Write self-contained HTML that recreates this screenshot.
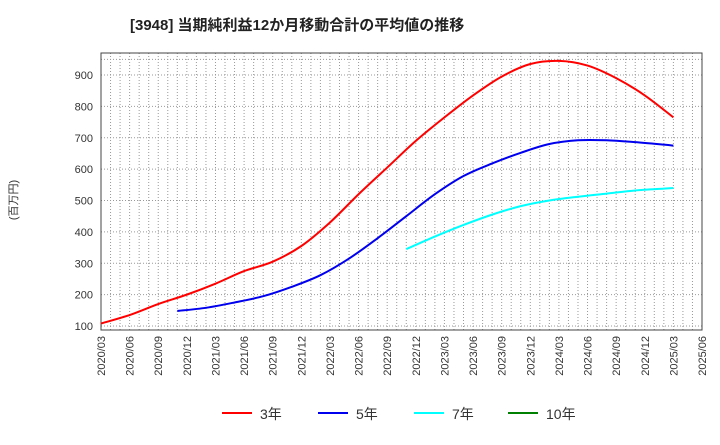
<!DOCTYPE html>
<html><head><meta charset="utf-8"><style>
body{margin:0;background:#fff;}
svg text{font-family:"Liberation Sans","Noto Sans CJK JP",sans-serif;}
</style></head><body>
<svg id="c" width="720" height="440">
<text x="130" y="30" font-size="15" font-weight="bold" fill="#222">[3948]  当期純利益12か月移動合計の平均値の推移</text>
<text transform="translate(17,200) rotate(-90)" font-size="11" fill="#333" text-anchor="middle">(百万円)</text>
<g id="grid"></g><g id="axes"></g><g id="series"></g><g id="legend"></g>
</svg>
<script>
const xLabels=["2020/03","2020/06","2020/09","2020/12","2021/03","2021/06","2021/09","2021/12","2022/03","2022/06","2022/09","2022/12","2023/03","2023/06","2023/09","2023/12","2024/03","2024/06","2024/09","2024/12","2025/03","2025/06"];
const yTicks=[100,200,300,400,500,600,700,800,900];
// month index from 2020/03
const m3=[0,3,6,9,12,15,18,21,24,27,30,33,36,39,42,45,48,51,54,57,60];
const v3=[108,135,170,200,235,275,305,355,430,520,605,690,765,835,895,935,945,930,890,835,765];
const m5=[8,11,14,17,20,23,26,29,32,35,38,41,44,47,50,53,56,59,60];
const v5=[148,158,175,195,225,262,315,380,450,520,578,618,652,680,692,692,686,678,675];
const m7=[32,35,38,41,44,47,50,53,56,59,60];
const v7=[345,385,422,455,482,500,512,522,532,538,540];
const L=101,R=702,T=53,B=330;
const X=m=>L+m*(R-L)/63;
const Y=v=>326-(v-100)*(251/800);
const NS="http://www.w3.org/2000/svg";
function mk(t,a,p){const e=document.createElementNS(NS,t);for(const k in a)e.setAttribute(k,a[k]);p.appendChild(e);return e;}
const g=document.getElementById('grid');
for(let m=1;m<63;m++){const l=mk('line',{x1:X(m),x2:X(m),y1:T,y2:B,stroke:'#999','stroke-dasharray':'1,2','stroke-width':1},g);}
for(const v of yTicks.concat([950])){const l=mk('line',{x1:L,x2:R,y1:Y(v),y2:Y(v),stroke:'#999','stroke-dasharray':'1,2'},g);}
const ax=document.getElementById('axes');
const fr=mk('rect',{x:L,y:T,width:R-L,height:B-T,fill:'none',stroke:'#444'},ax);

yTicks.forEach(v=>{const t=mk('text',{x:L-8,y:Y(v)+4,'font-size':11,fill:'#333','text-anchor':'end'},ax);t.textContent=v;});
xLabels.forEach((s,i)=>{const x=X(i*3);const t=mk('text',{transform:`translate(${x+4},${B+6}) rotate(-90)`,'font-size':11,fill:'#333','text-anchor':'end'},ax);t.textContent=s;});
function path(ms,vs){const p=ms.map((m,i)=>[X(m),Y(vs[i])]);let d=`M${p[0][0]},${p[0][1]}`;
for(let i=0;i<p.length-1;i++){const p0=p[Math.max(0,i-1)],p1=p[i],p2=p[i+1],p3=p[Math.min(p.length-1,i+2)];
d+=` C${p1[0]+(p2[0]-p0[0])/6},${p1[1]+(p2[1]-p0[1])/6} ${p2[0]-(p3[0]-p1[0])/6},${p2[1]-(p3[1]-p1[1])/6} ${p2[0]},${p2[1]}`;}return d;}
const s=document.getElementById('series');
[[m3,v3,'#ff0000','series-3y'],[m5,v5,'#0000ee','series-5y'],[m7,v7,'#00ffff','series-7y']].forEach(([m,v,c,n])=>{const e=mk('path',{d:path(m,v),fill:'none',stroke:c,'stroke-width':2},s);});
const lg=document.getElementById('legend');
[['3年','#ff0000',222],['5年','#0000ee',318],['7年','#00ffff',414],['10年','#008000',508]].forEach(([t,c,x])=>{
const l=mk('line',{x1:x,x2:x+30,y1:413,y2:413,stroke:c,'stroke-width':2},lg);
const tx=mk('text',{x:x+38,y:419,'font-size':14,fill:'#333'},lg);tx.textContent=t;});
</script>
</body></html>
